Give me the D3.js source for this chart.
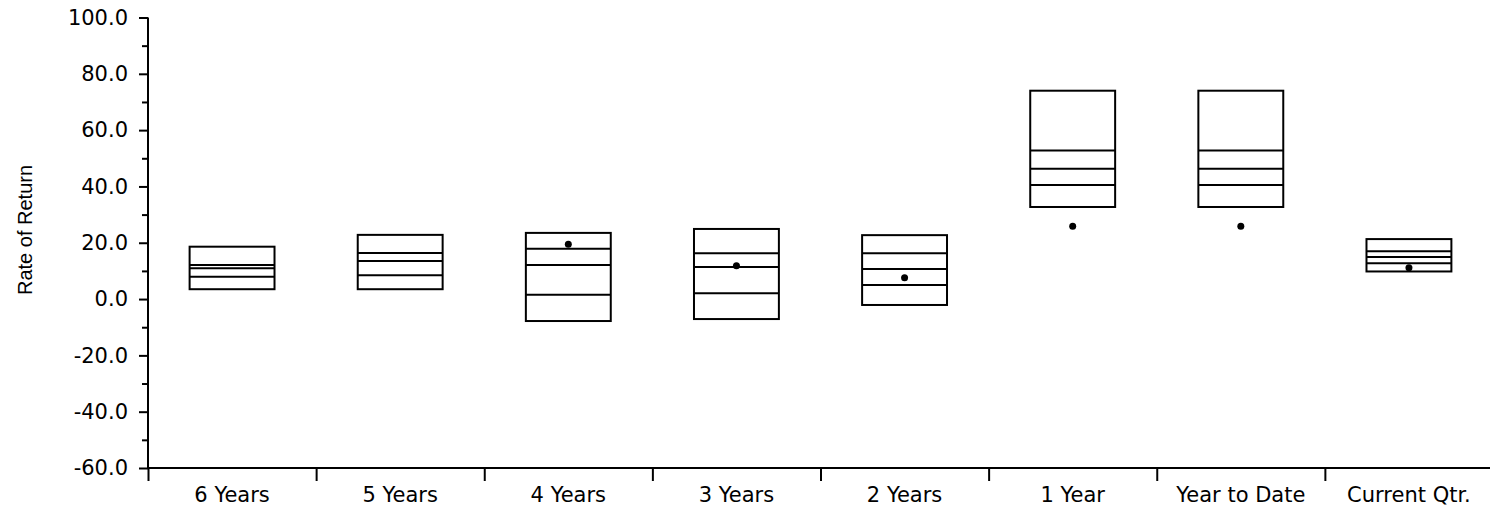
<!DOCTYPE html>
<html>
<head>
<meta charset="utf-8">
<script src="https://cdn.jsdelivr.net/npm/d3@7"></script>
<style>
  body { margin: 0; background: #fff; }
  svg { display: block; }
  .tick text { font-family: "DejaVu Sans", sans-serif; font-size: 21px; fill: #000; }
  .axis path, .axis line { stroke: #000; stroke-width: 2; }
  .box rect, .box line { fill: none; stroke: #000; stroke-width: 2; }
  .ytitle { font-family: "Liberation Sans", Arial, sans-serif; font-size: 20px; fill: #000; }
</style>
</head>
<body>
<svg id="chart" width="1490" height="507"></svg>
<script>
// universe percentile ranges per period, top of box down to bottom
var categories = ["6 Years", "5 Years", "4 Years", "3 Years", "2 Years", "1 Year", "Year to Date", "Current Qtr."];
var pct5  = [18.6, 22.8, 23.5, 24.9, 22.7, 74.0, 74.0, 21.3];
var pct25 = [12.1, 16.4, 17.9, 16.3, 16.3, 52.8, 52.8, 17.0];
var pct50 = [10.9, 13.5, 12.1, 11.4, 10.7, 46.3, 46.3, 14.9];
var pct75 = [7.9, 8.5, 1.5, 2.1, 5.0, 40.5, 40.5, 12.7];
var pct95 = [3.5, 3.5, -7.8, -7.1, -2.1, 32.7, 32.7, 9.8];
var portfolio = [null, null, 19.5, 11.8, 7.6, 25.9, 25.9, 11.1];

var majorTicks = [-60, -40, -20, 0, 20, 40, 60, 80, 100];
var minorTicks = [-50, -30, -10, 10, 30, 50, 70, 90];

var svg = d3.select("#chart");

var plotLeft = 148, plotRight = 1493, plotTop = 17.5, plotBottom = 468;

// plain hyphen for negatives, like the original
var fmt = d3.formatLocale({ decimal: ".", thousands: ",", grouping: [3], currency: ["$", ""], minus: "-" }).format(".1f");

var x = d3.scaleBand()
	.domain(categories)
	.range([plotLeft, plotRight]);

var xEdge = d3.scaleLinear()
	.domain([0, categories.length])
	.range([plotLeft, plotRight]);

var y = d3.scaleLinear()
	.domain([-60, 100])
	.range([plotBottom, plotTop]);

// minor y ticks
svg.append("g")
	.attr("class", "axis")
	.attr("transform", "translate(" + plotLeft + ",0)")
	.call(d3.axisLeft(y).tickValues(minorTicks).tickSize(6).tickFormat(""))
	.select(".domain").remove();

// major y ticks
svg.append("g")
	.attr("class", "axis")
	.attr("transform", "translate(" + plotLeft + ",0)")
	.call(d3.axisLeft(y).tickValues(majorTicks).tickSize(9).tickPadding(11).tickFormat(fmt))
	.select(".domain").attr("d", "M0," + plotTop + "V" + plotBottom);

// x axis: ticks sit on the band edges
svg.append("g")
	.attr("class", "axis")
	.attr("transform", "translate(0," + plotBottom + ")")
	.call(d3.axisBottom(xEdge).tickValues(d3.range(0, categories.length + 1)).tickSize(13).tickFormat(""))
	.select(".domain").attr("d", "M" + plotLeft + ",0H" + plotRight);

// x labels centred in each band
svg.append("g")
	.attr("class", "axis")
	.attr("transform", "translate(0," + plotBottom + ")")
	.call(d3.axisBottom(x).tickSize(0).tickPadding(19))
	.call(function(g) { g.select(".domain").remove(); });

svg.append("text")
	.attr("class", "ytitle")
	.attr("text-anchor", "middle")
	.attr("transform", "translate(32,230) rotate(-90)")
	.text("Rate of Return");

var boxW = x.bandwidth() * 0.505;

var boxes = svg.selectAll(".box")
	.data(categories)
	.enter()
	.append("g")
	.attr("class", "box")
	.attr("transform", function(d) { return "translate(" + (x(d) + x.bandwidth() / 2) + ",0)"; });

boxes.append("rect")
	.attr("x", -boxW / 2)
	.attr("width", boxW)
	.attr("y", function(d, i) { return y(pct5[i]); })
	.attr("height", function(d, i) { return y(pct95[i]) - y(pct5[i]); });

[pct25, pct50, pct75].forEach(function(arr)
{
	boxes.append("line")
		.attr("x1", -boxW / 2)
		.attr("x2", boxW / 2)
		.attr("y1", function(d, i) { return y(arr[i]); })
		.attr("y2", function(d, i) { return y(arr[i]); });
});

svg.selectAll(".dot")
	.data(categories.filter(function(d, i) { return portfolio[i] !== null; }))
	.enter()
	.append("circle")
	.attr("class", "dot")
	.attr("cx", function(d) { return x(d) + x.bandwidth() / 2; })
	.attr("cy", function(d) { return y(portfolio[categories.indexOf(d)]); })
	.attr("r", 3.5)
	.attr("fill", "#000");
</script>
</body>
</html>
